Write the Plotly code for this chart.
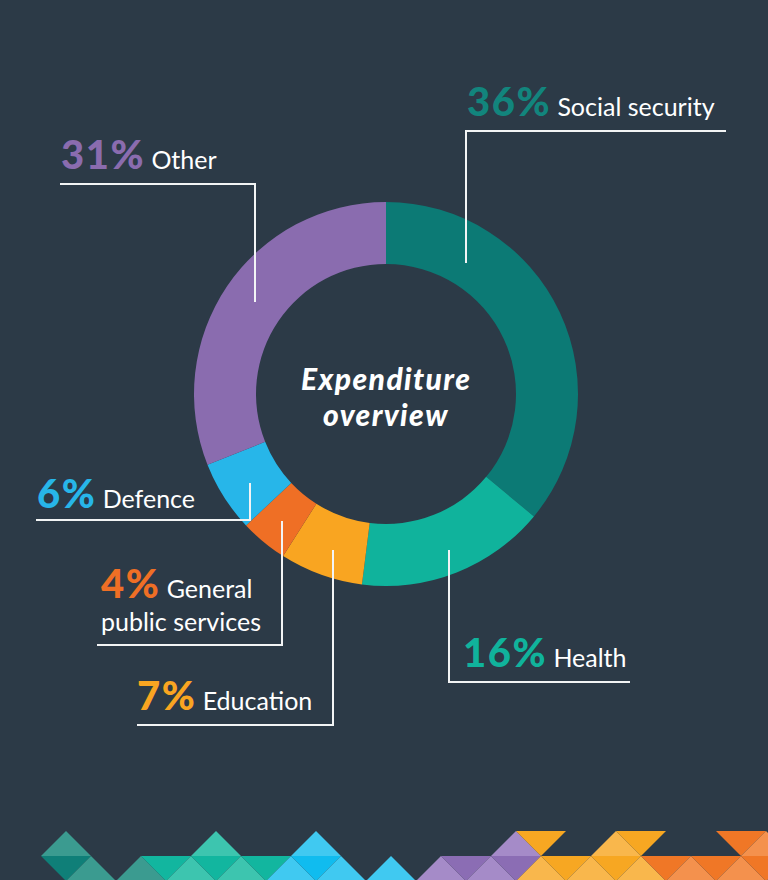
import plotly.graph_objects as go

# ---------------- data ----------------
categories = ["Social security", "Health", "Education", "General public services", "Defence", "Other"]
shares = [36, 16, 7, 4, 6, 31]
colors = ["#0c7a75", "#10b39c", "#f9a521", "#ef6f25", "#27b6e9", "#8a6caf"]
label_text = ["Social security", "Health", "Education", "General<br>public services", "Defence", "Other"]

W, H = 768, 880
BG = "#2c3a47"

def px(x):
    return x / W

def py(y):
    return 1 - y / H

# ---------------- layout geometry (pixels) ----------------
cx, cy, R = 386, 394, 192
hole = 130 / 192

# label anchor (left x, centre y) and leader polylines
label_pos = {
    "Social security": (465, 101),
    "Health": (461, 652),
    "Education": (135, 695),
    "General public services": (99, 597),
    "Defence": (35, 493),
    "Other": (59, 154),
}
leaders = {
    "Social security": [(466, 263), (466, 131), (726, 131)],
    "Health": [(449, 550), (449, 682), (630, 682)],
    "Education": [(333, 550), (333, 725), (137, 725)],
    "General public services": [(282, 521), (282, 645), (97, 645)],
    "Defence": [(250, 483), (250, 520), (36, 520)],
    "Other": [(255, 302), (255, 184), (60, 184)],
}

fig = go.Figure()
fig.add_trace(go.Pie(
    labels=categories,
    values=shares,
    marker=dict(colors=colors, line=dict(width=0)),
    hole=hole,
    sort=False,
    direction="clockwise",
    rotation=0,
    textinfo="none",
    hoverinfo="label+percent",
    showlegend=False,
    domain=dict(x=[px(cx - R), px(cx + R)], y=[py(cy + R), py(cy - R)]),
))

shapes = []
for name, pts in leaders.items():
    path = "M " + " L ".join(f"{px(x):.5f},{py(y):.5f}" for x, y in pts)
    shapes.append(dict(type="path", path=path, xref="paper", yref="paper",
                       line=dict(color="#f2f4f5", width=2), layer="above"))

# ---------------- decorative triangle strip at the bottom ----------------
deco = {
    "greyteal": "#3b9b90", "darkteal": "#0f7f78", "teal": "#12b69f", "lightteal": "#3dc5af",
    "blue": "#10bcef", "lightblue": "#40c9f1", "purple": "#8b6db4", "lightpurple": "#a58bc8",
    "yellow": "#f7a722", "lightyellow": "#f9b74c", "orange": "#f07726", "lightorange": "#f4914d",
}
tri_cells = [
    (0, 2, "greyteal"), (0, 8, "lightteal"), (0, 12, "lightblue"), (0, 20, "lightpurple"),
    (0, 21, "yellow"), (0, 24, "lightyellow"), (0, 25, "yellow"), (0, 29, "orange"),
    (0, 30, "lightorange"),
    (1, 2, "darkteal"), (1, 3, "greyteal"), (1, 5, "greyteal"), (1, 6, "teal"),
    (1, 7, "lightteal"), (1, 8, "teal"), (1, 9, "lightteal"), (1, 10, "teal"),
    (1, 11, "lightblue"), (1, 12, "blue"), (1, 13, "lightblue"), (1, 15, "lightblue"),
    (1, 17, "lightpurple"), (1, 18, "purple"), (1, 19, "lightpurple"), (1, 20, "purple"),
    (1, 21, "lightyellow"), (1, 22, "yellow"), (1, 23, "lightyellow"), (1, 24, "yellow"),
    (1, 25, "lightyellow"), (1, 26, "orange"), (1, 27, "lightorange"), (1, 28, "orange"),
    (1, 29, "lightorange"), (1, 30, "orange"), (1, 31, "lightorange"),
]
X0, STEP, ROW_Y = 16, 25, [831, 856, 881]
for r, k, c in tri_cells:
    top, bot = ROW_Y[r], ROW_Y[r + 1]
    xl, xc, xr = X0 + STEP * (k - 1), X0 + STEP * k, X0 + STEP * (k + 1)
    if (k + r) % 2 == 0:  # upright
        pts = [(xc, top), (xr, bot), (xl, bot)]
    else:  # inverted
        pts = [(xl, top), (xr, top), (xc, bot)]
    path = "M " + " L ".join(f"{px(x):.5f},{py(y):.5f}" for x, y in pts) + " Z"
    shapes.append(dict(type="path", path=path, xref="paper", yref="paper",
                       fillcolor=deco[c], line=dict(width=0), layer="below"))

annotations = []
for name, val, col, txt in zip(categories, shares, colors, label_text):
    x, y = label_pos[name]
    pct_col = col
    if name == "Social security":
        pct_col = "#12857d"
    text = (f"<span style='font-size:40px;font-weight:900;letter-spacing:1.5px;color:{pct_col}'>{val}%</span>"
            f" {txt}")
    annotations.append(dict(
        x=px(x), y=py(y), xref="paper", yref="paper", xanchor="left", yanchor="middle",
        align="left", showarrow=False, text=text,
        font=dict(family="Lato", size=25, color="#ffffff"),
    ))

center_style = "font-weight:900;font-style:italic;letter-spacing:1.4px"
annotations.append(dict(x=px(cx), y=py(378), xref="paper", yref="paper", showarrow=False,
                        text=f"<span style='{center_style}'>Expenditure</span>",
                        font=dict(family="Lato", size=30, color="#ffffff")))
annotations.append(dict(x=px(cx), y=py(414), xref="paper", yref="paper", showarrow=False,
                        text=f"<span style='{center_style}'>overview</span>",
                        font=dict(family="Lato", size=30, color="#ffffff")))

fig.update_layout(
    width=W, height=H,
    margin=dict(l=0, r=0, t=0, b=0),
    paper_bgcolor=BG, plot_bgcolor=BG,
    shapes=shapes,
    annotations=annotations,
    showlegend=False,
)

fig.write_html("out.html", config={"displayModeBar": False},
               post_script="document.body.style.margin='0';document.body.style.overflow='hidden';")
